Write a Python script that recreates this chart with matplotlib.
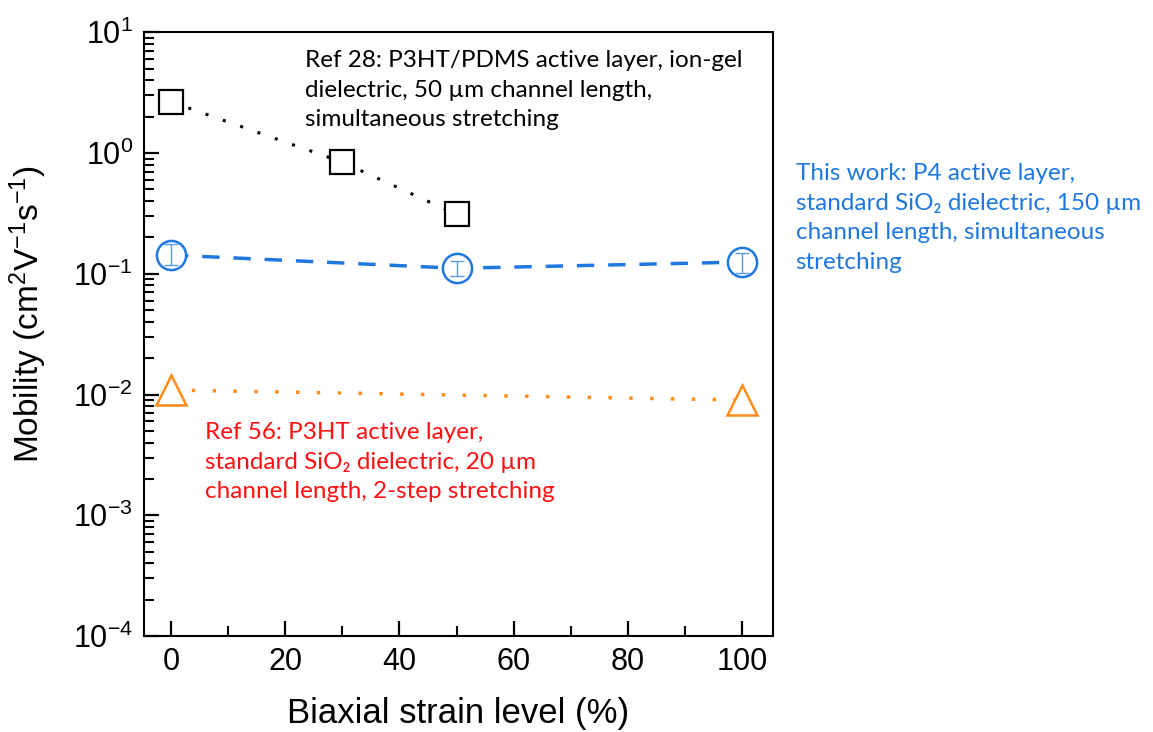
import numpy as np
import matplotlib
matplotlib.use('Agg')
import matplotlib.pyplot as plt
from matplotlib.ticker import NullFormatter, FixedLocator

plt.rcParams['font.family'] = ['Liberation Sans', 'DejaVu Sans']
plt.rcParams['mathtext.fontset'] = 'custom'
plt.rcParams['mathtext.rm'] = 'Liberation Sans'
plt.rcParams['mathtext.it'] = 'Liberation Sans'

# Ref 28 (squares)
ref28_x = [0, 30, 50]
ref28_y = [2.65, 0.84, 0.31]

# This work (circles)
work_x = [0, 50, 100]
work_y = [0.143, 0.111, 0.125]
work_lo = [0.118, 0.096, 0.102]
work_hi = [0.178, 0.128, 0.148]

# Ref 56 (triangles)
ref56_x = [0, 100]
ref56_y = [0.0109, 0.0090]

xticks = [0, 20, 40, 60, 80, 100]
yticks = [1e-4, 1e-3, 1e-2, 1e-1, 1e0, 1e1]
ytick_labels = ['10$^{-4}$', '10$^{-3}$', '10$^{-2}$', '10$^{-1}$', '10$^{0}$', '10$^{1}$']

blue = '#1f78e0'
orange = '#ff8c1a'

fig = plt.figure(figsize=(11.53, 7.32), dpi=100)
ax = fig.add_axes([0.125, 0.131, 0.545, 0.825])

ax.plot(ref28_x, ref28_y, color='black', linestyle=(0, (1, 5)), linewidth=2.2, zorder=2)
ax.plot(ref28_x, ref28_y, linestyle='none', marker='s', markersize=17,
        markerfacecolor='white', markeredgecolor='black', markeredgewidth=1.6, zorder=3)

ax.plot(work_x, work_y, color=blue, linestyle=(0, (5, 4)), linewidth=2.5, zorder=2)
ax.plot(work_x, work_y, linestyle='none', marker='o', markersize=21,
        markerfacecolor='white', markeredgecolor=blue, markeredgewidth=1.8, zorder=3)
yerr = [np.array(work_y) - np.array(work_lo), np.array(work_hi) - np.array(work_y)]
ax.errorbar(work_x, work_y, yerr=yerr, fmt='none', ecolor='#5a9be8', elinewidth=1.0,
            capsize=5, capthick=1.0, zorder=4)

ax.plot(ref56_x, ref56_y, color=orange, linestyle=(0, (1, 5)), linewidth=2.5, zorder=2)
ax.plot(ref56_x, ref56_y, linestyle='none', marker='^', markersize=21,
        markerfacecolor='white', markeredgecolor=orange, markeredgewidth=1.8, zorder=3)

ax.set_yscale('log')
ax.set_xlim(-4.7, 105.3)
ax.set_ylim(1e-4, 1e1)
ax.set_xticks(xticks)
ax.set_xticks(np.arange(10, 100, 20), minor=True)
ax.yaxis.set_major_locator(FixedLocator(yticks))
ax.set_yticklabels(ytick_labels)
minor_y = [m * 10.0 ** e for e in range(-4, 1) for m in range(2, 10)]
ax.yaxis.set_minor_locator(FixedLocator(minor_y))
ax.yaxis.set_minor_formatter(NullFormatter())
ax.tick_params(axis='both', which='major', direction='in', length=11, width=1.6,
               labelsize=22, pad=8)
ax.tick_params(axis='both', which='minor', direction='in', length=7, width=1.5)
ax.tick_params(axis='y', which='both', right=False)
for sp in ax.spines.values():
    sp.set_linewidth(1.5)

ax.set_xlabel('Biaxial strain level (%)', fontsize=25, labelpad=14)
ax.set_ylabel('Mobility (cm$^2$V$^{-1}$s$^{-1}$)', fontsize=24)
ax.yaxis.set_label_coords(-0.152, 0.533)

anno_font = ['Lato', 'DejaVu Sans']
ax.text(23.5, 3.3, 'Ref 28: P3HT/PDMS active layer, ion-gel\n'
        'dielectric, 50 \u00b5m channel length,\nsimultaneous stretching',
        fontsize=17.5, color='black', va='center', ha='left', linespacing=1.5,
        family=anno_font)
ax.text(6.0, 2.75e-3, 'Ref 56: P3HT active layer,\n'
        'standard SiO\u2082 dielectric, 20 \u00b5m\nchannel length, 2-step stretching',
        fontsize=17.5, color='#ff1010', va='center', ha='left', linespacing=1.5,
        family=anno_font)
fig.text(0.690, 0.702, 'This work: P4 active layer,\n'
         'standard SiO\u2082 dielectric, 150 \u00b5m\nchannel length, simultaneous\nstretching',
         fontsize=17.5, color=blue, va='center', ha='left', linespacing=1.5,
         family=anno_font)

fig.savefig('out.png', dpi=100)
